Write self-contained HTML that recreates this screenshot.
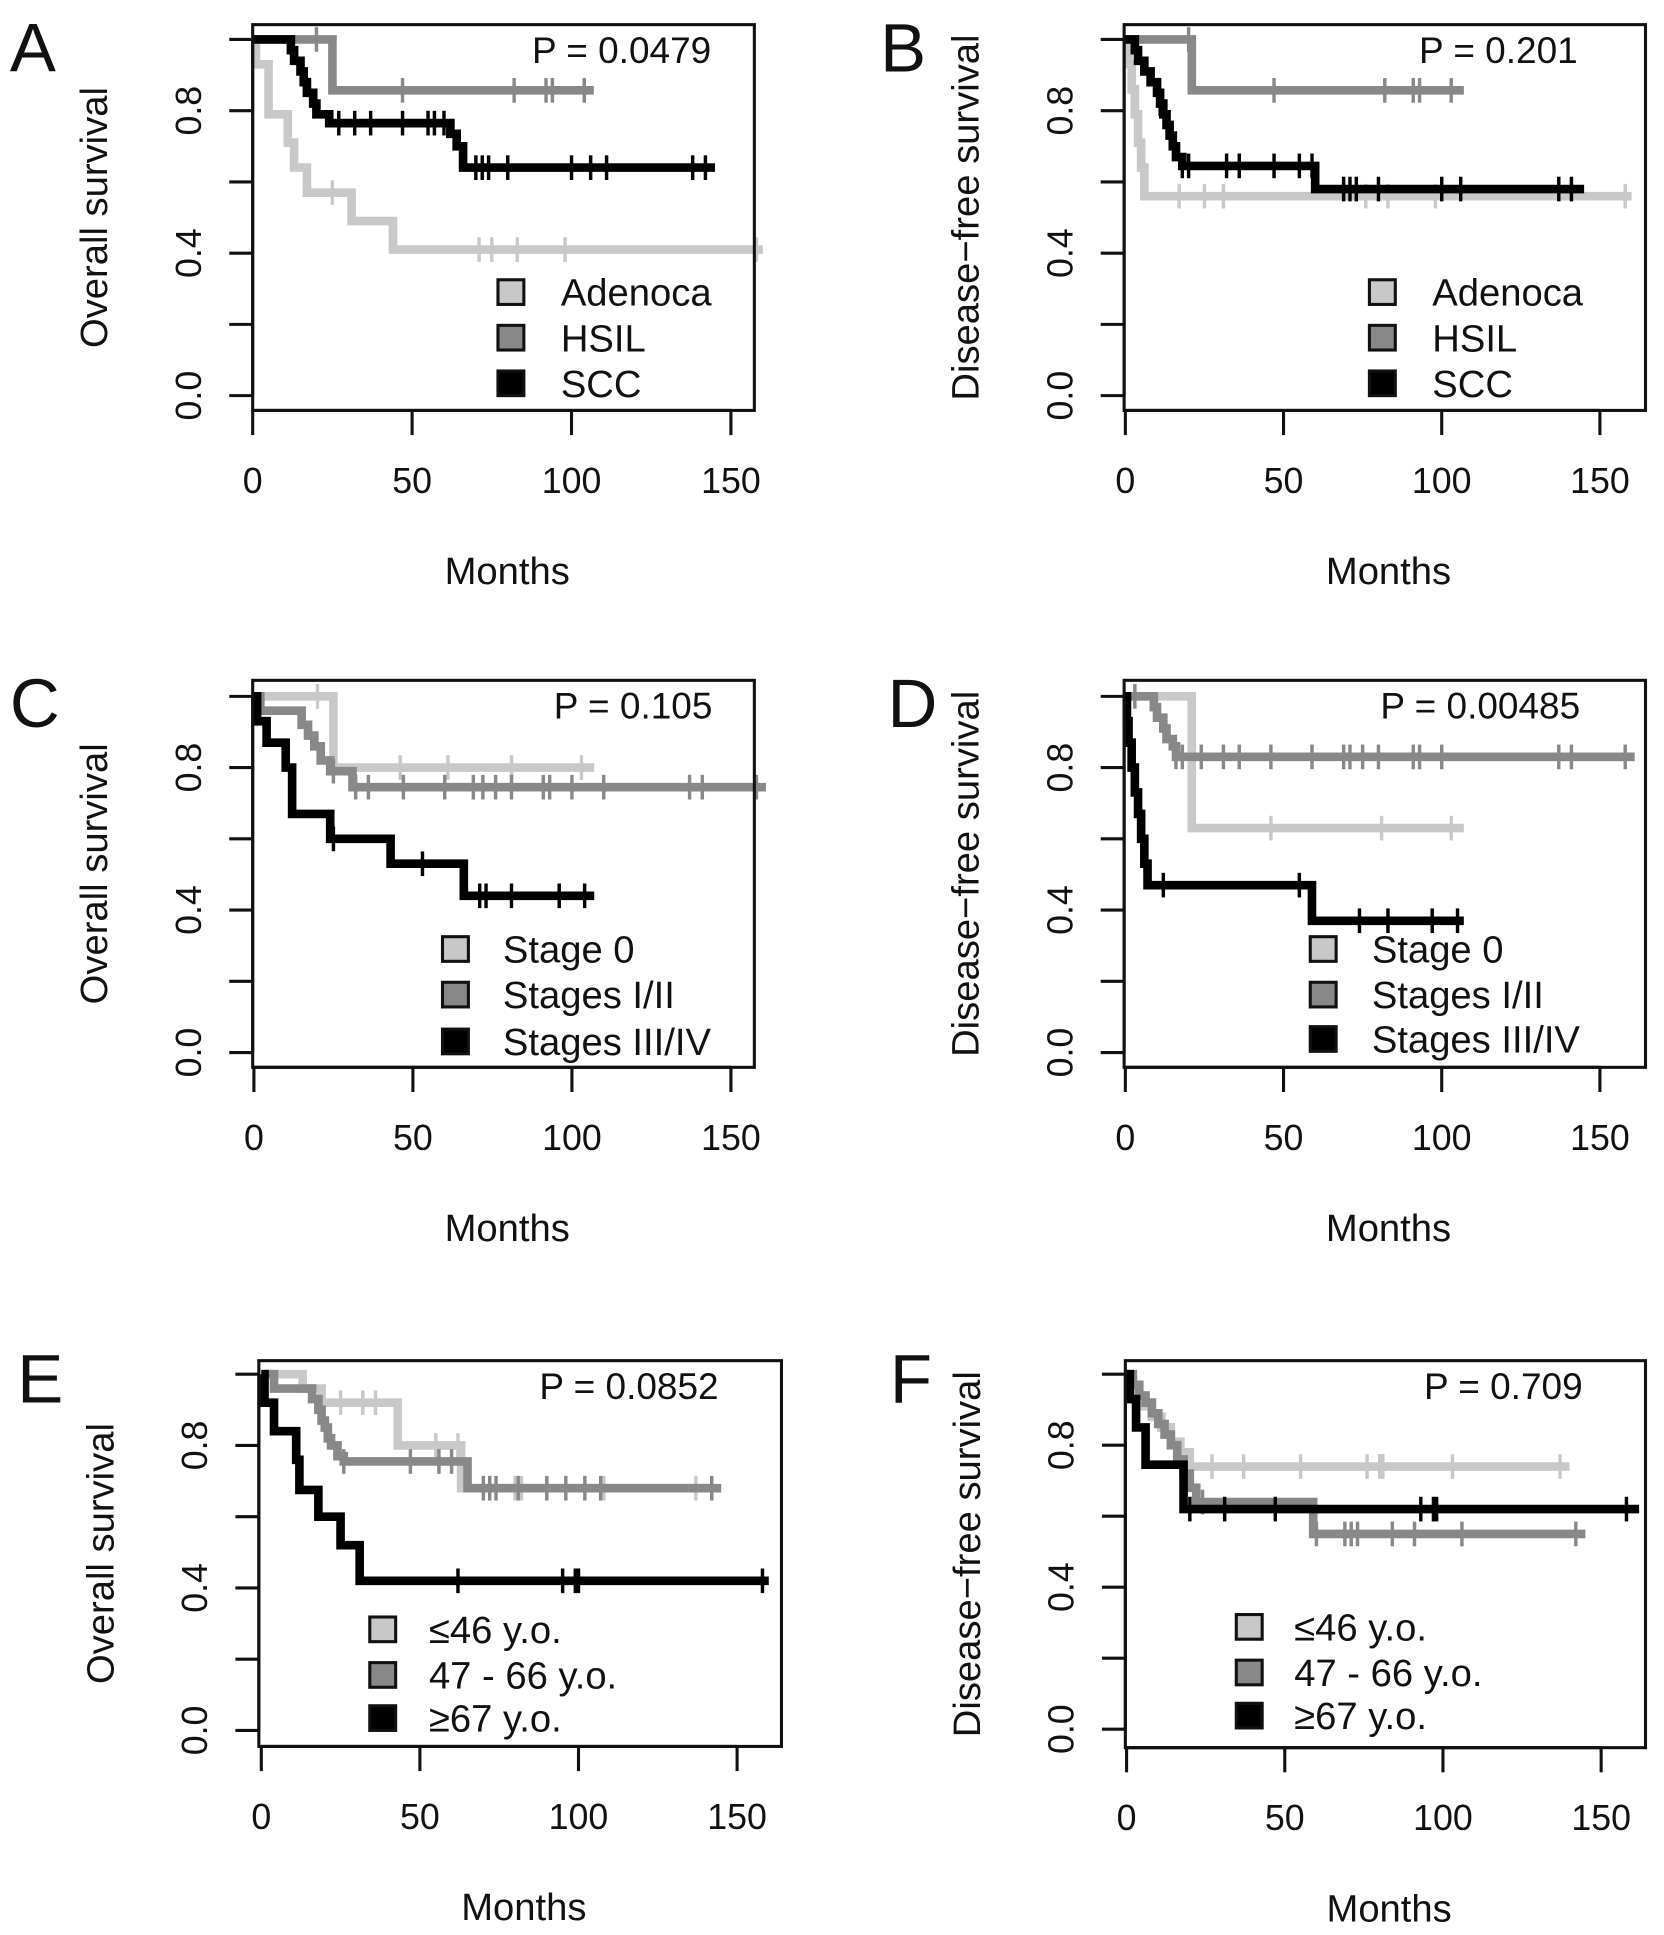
<!DOCTYPE html>
<html><head><meta charset="utf-8"><style>
html,body{margin:0;padding:0;background:#fff;}
svg{display:block;}
text{font-family:"Liberation Sans",Arial,sans-serif;fill:#111;}
</style></head><body>
<svg id="fig" xmlns="http://www.w3.org/2000/svg" width="1664" height="1935" viewBox="0 0 1350 1570" preserveAspectRatio="none"></svg>
<script>
// ---- data ----
const monthTicks = [0, 50, 100, 150];
const survTicks = [0, 0.2, 0.4, 0.6, 0.8, 1.0];
const survTickLabels = ["0.0", "", "0.4", "", "0.8", ""];

// Panel A
const aAdenoT = [1, 5, 11, 13, 17, 31, 44];
const aAdenoS = [0.93, 0.79, 0.71, 0.64, 0.57, 0.49, 0.41];
const aAdenoC = [25, 71, 75, 83, 98, 158];
const aHsilT = [25];
const aHsilS = [0.857];
const aHsilC = [20, 47, 82, 92, 94, 104];
const aSccT = [12, 13, 15, 16, 17, 19, 20, 24, 62, 64, 66];
const aSccS = [0.97, 0.94, 0.91, 0.88, 0.85, 0.82, 0.79, 0.765, 0.735, 0.70, 0.64];
const aSccC = [27, 32, 37, 47, 55, 57, 60, 70, 72, 74, 80, 100, 106, 111, 138, 142];
// Panel B
const bAdenoT = [1, 2, 3, 4, 5, 6];
const bAdenoS = [0.93, 0.86, 0.79, 0.71, 0.64, 0.56];
const bAdenoC = [17, 25, 31, 76, 83, 98, 158];
const bHsilT = [21];
const bHsilS = [0.857];
const bHsilC = [20, 47, 82, 91, 93, 103];
const bSccT = [3, 4, 6, 8, 10, 11, 12, 13, 14, 15, 16, 18, 60];
const bSccS = [0.97, 0.94, 0.91, 0.88, 0.85, 0.82, 0.79, 0.76, 0.73, 0.70, 0.67, 0.645, 0.58];
const bSccC = [11, 18, 20, 32, 36, 47, 55, 59, 69, 71, 73, 80, 100, 106, 137, 141];
// Panel C
const cS0T = [25];
const cS0S = [0.80];
const cS0C = [20, 46, 61, 81, 103];
const cS12T = [2, 15, 17, 19, 21, 24, 31];
const cS12S = [0.96, 0.92, 0.89, 0.86, 0.82, 0.79, 0.745];
const cS12C = [25, 32, 36, 47, 60, 69, 72, 76, 81, 91, 93, 100, 110, 137, 141, 158];
const cS34T = [1, 4, 10, 12, 24, 43, 66];
const cS34S = [0.93, 0.87, 0.80, 0.67, 0.60, 0.53, 0.44];
const cS34C = [25, 53, 71, 73, 81, 96, 104];
// Panel D
const dS0T = [21];
const dS0S = [0.63];
const dS0C = [46, 81, 103];
const dS12T = [9, 10, 12, 13, 15, 16];
const dS12S = [0.97, 0.94, 0.91, 0.88, 0.86, 0.83];
const dS12C = [3, 16, 18, 24, 31, 36, 46, 59, 69, 71, 75, 80, 91, 93, 100, 137, 141, 158];
const dS34T = [0.5, 1, 2, 3, 4, 5, 6, 7, 59];
const dS34S = [0.93, 0.87, 0.80, 0.73, 0.67, 0.60, 0.53, 0.47, 0.37];
const dS34C = [12, 55, 74, 83, 97, 105];
// Panel E
const eYoungT = [13, 19, 43, 63];
const eYoungS = [0.96, 0.92, 0.80, 0.68];
const eYoungC = [25, 32, 36, 55, 62, 80, 82, 108, 137];
const eMidT = [4, 16, 18, 19, 20, 21, 22, 24, 26, 65];
const eMidS = [0.96, 0.93, 0.90, 0.87, 0.85, 0.82, 0.80, 0.77, 0.755, 0.68];
const eMidC = [26, 47, 56, 60, 70, 72, 74, 81, 90, 96, 102, 107, 142];
const eOldT = [1, 4, 11, 12, 18, 25, 31];
const eOldS = [0.92, 0.84, 0.76, 0.675, 0.60, 0.52, 0.42];
const eOldC = [62, 95, 99, 100, 158];
// Panel F
const fYoungT = [1, 3, 5, 8, 11, 14, 17, 20];
const fYoungS = [0.97, 0.94, 0.91, 0.88, 0.85, 0.81, 0.78, 0.74];
const fYoungC = [27, 37, 55, 76, 80, 81, 103, 137];
const fMidT = [2, 4, 6, 8, 10, 12, 14, 16, 18, 20, 22, 59];
const fMidS = [0.97, 0.94, 0.92, 0.89, 0.86, 0.83, 0.80, 0.76, 0.72, 0.68, 0.64, 0.55];
const fMidC = [24, 60, 69, 71, 73, 84, 91, 106, 142];
const fOldT = [1, 3, 6, 18];
const fOldS = [0.93, 0.85, 0.745, 0.62];
const fOldC = [20, 31, 47, 93, 97, 98, 158];

const LIGHT = "#c8c8c8", MID = "#888888", DARK = "#000000";
const NS = "http://www.w3.org/2000/svg";
const svg = document.getElementById("fig");

function mk(tag, attrs, parent) {
  const e = document.createElementNS(NS, tag);
  for (const k in attrs) e.setAttribute(k, attrs[k]);
  (parent || svg).appendChild(e);
  return e;
}
function txt(parent, x, y, s, size, anchor, extra) {
  const t = mk("text", Object.assign({x: x, y: y, "font-size": size, "text-anchor": anchor || "start"}, extra || {}), parent);
  t.textContent = s;
  return t;
}
function survAt(T, S, t) {
  let s = 1;
  for (let i = 0; i < T.length; i++) if (T[i] <= t) s = S[i];
  return s;
}

const panels = [
  {id: "a", letter: "A", lx: 8, ly: 58, box: [205, 20, 612, 333], x0: 205, x150: 593, y1: 32, y0: 321, ytitle: "Overall survival", p: "P = 0.0479", pRight: 577,
   leg: {sx: 404, tx: 455, ys: [237, 274, 311]},
   series: [
     {name: "Adenoca", c: LIGHT, T: aAdenoT, S: aAdenoS, C: aAdenoC, end: 160},
     {name: "HSIL", c: MID, T: aHsilT, S: aHsilS, C: aHsilC, end: 107},
     {name: "SCC", c: DARK, T: aSccT, S: aSccS, C: aSccC, end: 145}]},
  {id: "b", letter: "B", lx: 714, ly: 58, box: [912, 20, 1335, 333], x0: 913, x150: 1298, y1: 32, y0: 321, ytitle: "Disease\u2212free survival", p: "P = 0.201", pRight: 1280,
   leg: {sx: 1111, tx: 1162, ys: [237, 274, 311]},
   series: [
     {name: "Adenoca", c: LIGHT, T: bAdenoT, S: bAdenoS, C: bAdenoC, end: 160},
     {name: "HSIL", c: MID, T: bHsilT, S: bHsilS, C: bHsilC, end: 107},
     {name: "SCC", c: DARK, T: bSccT, S: bSccS, C: bSccC, end: 145}]},
  {id: "c", letter: "C", lx: 8, ly: 590, box: [205, 552, 612, 866], x0: 206, x150: 593, y1: 565, y0: 854, ytitle: "Overall survival", p: "P = 0.105", pRight: 578,
   leg: {sx: 359, tx: 408, ys: [770, 807, 845]},
   series: [
     {name: "Stage 0", c: LIGHT, T: cS0T, S: cS0S, C: cS0C, end: 107},
     {name: "Stages I/II", c: MID, T: cS12T, S: cS12S, C: cS12C, end: 161},
     {name: "Stages III/IV", c: DARK, T: cS34T, S: cS34S, C: cS34C, end: 107}]},
  {id: "d", letter: "D", lx: 720, ly: 590, box: [912, 552, 1335, 866], x0: 913, x150: 1298, y1: 565, y0: 854, ytitle: "Disease\u2212free survival", p: "P = 0.00485", pRight: 1282,
   leg: {sx: 1063, tx: 1113, ys: [770, 807, 843]},
   series: [
     {name: "Stage 0", c: LIGHT, T: dS0T, S: dS0S, C: dS0C, end: 107},
     {name: "Stages I/II", c: MID, T: dS12T, S: dS12S, C: dS12C, end: 161},
     {name: "Stages III/IV", c: DARK, T: dS34T, S: dS34S, C: dS34C, end: 107}]},
  {id: "e", letter: "E", lx: 14, ly: 1138, box: [210, 1104, 634, 1417], x0: 212, x150: 598, y1: 1115, y0: 1404, ytitle: "Overall survival", p: "P = 0.0852", pRight: 583,
   leg: {sx: 300, tx: 348, ys: [1322, 1359, 1394]},
   series: [
     {name: "\u226446 y.o.", c: LIGHT, T: eYoungT, S: eYoungS, C: eYoungC, end: 142},
     {name: "47 - 66 y.o.", c: MID, T: eMidT, S: eMidS, C: eMidC, end: 145},
     {name: "\u226567 y.o.", c: DARK, T: eOldT, S: eOldS, C: eOldC, end: 160}]},
  {id: "f", letter: "F", lx: 722, ly: 1138, box: [913, 1104, 1335, 1418], x0: 914, x150: 1299, y1: 1115, y0: 1403, ytitle: "Disease\u2212free survival", p: "P = 0.709", pRight: 1284,
   leg: {sx: 1003, tx: 1050, ys: [1320, 1357, 1392]},
   series: [
     {name: "\u226446 y.o.", c: LIGHT, T: fYoungT, S: fYoungS, C: fYoungC, end: 140},
     {name: "47 - 66 y.o.", c: MID, T: fMidT, S: fMidS, C: fMidC, end: 145},
     {name: "\u226567 y.o.", c: DARK, T: fOldT, S: fOldS, C: fOldC, end: 162}]}
];

panels.forEach(P => {
  const g = mk("g", {});
  
  
  const xs = m => P.x0 + m * (P.x150 - P.x0) / 150;
  const ys = s => P.y0 - s * (P.y0 - P.y1);
  const [bl, bt, br, bb] = P.box;

  const L = txt(g, P.lx, P.ly, P.letter, 56, "start");
  
  

  P.series.forEach((sr, si) => {
    const sg = mk("g", {}, g);
    
    
    let d = "M" + xs(0) + "," + ys(1);
    for (let i = 0; i < sr.T.length; i++) {
      d += " H" + xs(sr.T[i]).toFixed(1) + " V" + ys(sr.S[i]).toFixed(1);
    }
    d += " H" + xs(sr.end).toFixed(1);
    const path = mk("path", {d: d, fill: "none", stroke: sr.c, "stroke-width": 7, "stroke-linejoin": "miter"}, sg);
    
    
    sr.C.forEach(t => {
      const yy = ys(survAt(sr.T, sr.S, t));
      const cm = mk("line", {x1: xs(t), x2: xs(t), y1: yy - 10, y2: yy + 10, stroke: sr.c, "stroke-width": 2.8}, sg);
      
      
    });
  });

  const bx = mk("rect", {x: bl, y: bt, width: br - bl, height: bb - bt, fill: "none", stroke: "#111", "stroke-width": 2.5}, g);
  
  

  const ya = mk("g", {}, g);
  
  
  mk("line", {x1: bl, x2: bl, y1: ys(0), y2: ys(1), stroke: "#111", "stroke-width": 2.5}, ya);
  survTicks.forEach((v, i) => {
    mk("line", {x1: bl - 19, x2: bl, y1: ys(v), y2: ys(v), stroke: "#111", "stroke-width": 2.5}, ya);
    if (survTickLabels[i]) {
      const cx = bl - 52, cy = ys(v);
      const t = txt(ya, cx, cy + 10, survTickLabels[i], 29, "middle", {transform: "rotate(-90 " + cx + " " + cy + ")"});
      
      
    }
  });
  const ytx = bl - 128, yty = (bt + bb) / 2;
  const yt = txt(g, ytx, yty + 10, P.ytitle, 31, "middle", {transform: "rotate(-90 " + ytx + " " + yty + ")"});
  
  

  const xa = mk("g", {}, g);
  
  
  mk("line", {x1: xs(0), x2: xs(150), y1: bb, y2: bb, stroke: "#111", "stroke-width": 2.5}, xa);
  monthTicks.forEach(m => {
    mk("line", {x1: xs(m), x2: xs(m), y1: bb, y2: bb + 20, stroke: "#111", "stroke-width": 2.5}, xa);
    const t = txt(xa, xs(m), bb + 67, String(m), 29, "middle");
    
    
  });
  const xt = txt(g, (bl + br) / 2 + 3, bb + 141, "Months", 31, "middle");
  
  

  const pv = txt(g, P.pRight, bt + 31, P.p, 30, "end");
  
  

  const lg = mk("g", {}, g);
  
  
  P.series.forEach((sr, i) => {
    const y = P.leg.ys[i];
    const e = mk("g", {}, lg);
    
    
    mk("rect", {x: P.leg.sx, y: y - 10, width: 21, height: 20, fill: sr.c, stroke: "#111", "stroke-width": 2.5}, e);
    txt(e, P.leg.tx, y + 11, sr.name, 31, "start");
  });
});
</script>
</body></html>
